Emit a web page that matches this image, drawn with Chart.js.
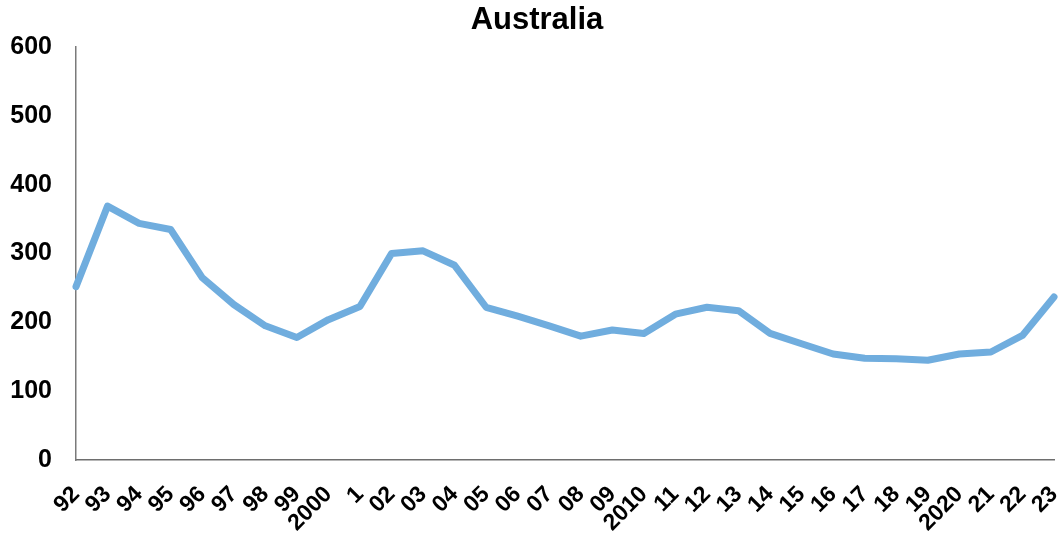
<!DOCTYPE html>
<html>
<head>
<meta charset="utf-8">
<title>Australia</title>
<script src="https://cdn.jsdelivr.net/npm/chart.js@4/dist/chart.umd.min.js"></script>
<style>
  html, body { margin: 0; padding: 0; background: #ffffff; }
  #wrap { width: 1058px; height: 537px; position: relative; }
</style>
</head>
<body>
<div id="wrap"><canvas id="chart" width="1058" height="537"></canvas></div>
<script>
// Year labels along the x axis
const years = ['92','93','94','95','96','97','98','99','2000','1','02','03','04','05','06','07','08','09','2010','11','12','13','14','15','16','17','18','19','2020','21','22','23'];
// Annual series values
const values = [252, 369, 344, 335, 265, 226, 195, 178, 204, 223, 300, 304, 283, 222, 209, 195, 180, 189, 184, 212, 222, 217, 184, 169, 154, 148, 147, 145, 154, 157, 181, 237];
// Value axis ticks
const yTicks = [0, 100, 200, 300, 400, 500, 600];

const FONT = "'Liberation Sans', Arial, Helvetica, sans-serif";

// Nudge the title box so the heading sits a little right of the canvas centre
const titleShift = {
  id: 'titleShift',
  afterLayout(chart) {
    if (chart.titleBlock) {
      chart.titleBlock.left += 20;
    }
  }
};

new Chart(document.getElementById('chart'), {
  type: 'line',
  data: {
    labels: years,
    datasets: [{
      data: values,
      borderColor: 'rgb(112,173,222)',
      backgroundColor: 'rgb(112,173,222)',
      borderWidth: 7,
      pointRadius: 0,
      pointHoverRadius: 0,
      tension: 0,
      borderJoinStyle: 'round',
      borderCapStyle: 'round',
      clip: false
    }]
  },
  plugins: [titleShift],
  options: {
    responsive: false,
    animation: false,
    events: [],
    layout: { padding: { left: 0, right: 4, top: 0, bottom: 0 } },
    plugins: {
      legend: { display: false },
      tooltip: { enabled: false },
      title: {
        display: true,
        text: 'Australia',
        color: '#000000',
        font: { family: FONT, size: 31, weight: 'bold', lineHeight: 1.2 },
        padding: { top: 2, bottom: 8 }
      }
    },
    scales: {
      x: {
        type: 'category',
        offset: false,
        grid: { display: false, drawTicks: false },
        border: { display: true, color: '#6e6e6e', width: 1.5 },
        ticks: {
          color: '#000000',
          font: { family: FONT, size: 23, weight: 'bold' },
          autoSkip: false,
          maxRotation: 45,
          minRotation: 45,
          padding: 21
        },
        afterFit: (scale) => {
          scale.height = 77;
          scale.paddingRight = 0;
          scale.paddingLeft = 0;
        }
      },
      y: {
        min: 0,
        max: 600,
        grid: { display: false, drawTicks: false },
        border: { display: true, color: '#7a7a7a', width: 1.5 },
        afterBuildTicks: (scale) => {
          scale.ticks = yTicks.map(v => ({ value: v }));
        },
        ticks: {
          color: '#000000',
          font: { family: FONT, size: 25, weight: 'bold' },
          padding: 24
        },
        afterFit: (scale) => {
          scale.width = 76;
        }
      }
    }
  }
});
</script>
</body>
</html>
